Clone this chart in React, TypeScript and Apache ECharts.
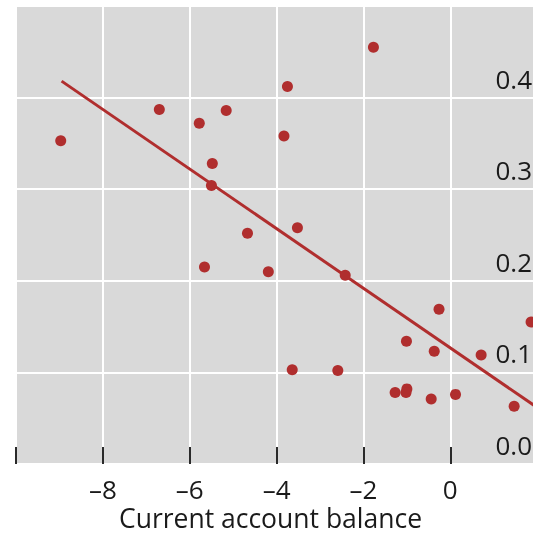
import React, { useEffect, useRef } from "react";
import * as echarts from "echarts";

// Scatter data (current account balance vs. value)
const pointX = [
  -8.97, -6.7, -5.78, -5.16, -5.48, -5.5, -4.67, -1.77, -3.75, -3.83, -3.52,
  -5.66, -4.19, -2.42, -0.26, 1.86, -1.01, -0.37, 0.71, -3.64, -2.59, -1.27,
  -1.0, -1.02, -0.44, 0.12, 1.47,
];
const pointY = [
  0.353, 0.387, 0.372, 0.386, 0.328, 0.304, 0.252, 0.455, 0.412, 0.358, 0.258,
  0.215, 0.21, 0.206, 0.169, 0.155, 0.134, 0.123, 0.119, 0.103, 0.102, 0.078,
  0.082, 0.078, 0.071, 0.076, 0.063,
];
// Fitted line endpoints
const fitX = [-8.95, 1.95];
const fitY = [0.418, 0.0633];

const xTicks = [-8, -6, -4, -2, 0];
const yTicks = [0.0, 0.1, 0.2, 0.3, 0.4];
const xTitle = "Current account balance";

const RED = "#b02e2e";
const FONT = "Open Sans";

export default function App() {
  const ref = useRef<HTMLDivElement>(null);
  useEffect(() => {
    if (!ref.current) return;
    const chart = echarts.init(ref.current, undefined, { renderer: "svg" });
    chart.setOption({
      animation: false,
      grid: {
        left: 16,
        right: -2,
        top: 6,
        bottom: 70,
        show: true,
        backgroundColor: "#d9d9d9",
        borderWidth: 0,
        containLabel: false,
        outerBoundsMode: "none",
      },
      xAxis: {
        type: "value",
        min: -10,
        max: 1.95,
        interval: 2,
        axisLine: { show: false },
        axisTick: {
          show: true,
          inside: true,
          length: 17,
          lineStyle: { color: "#2a2a2a", width: 2 },
        },
        splitLine: { show: true, lineStyle: { color: "#ffffff", width: 2 } },
        axisLabel: {
          margin: 14,
          fontSize: 26,
          lineHeight: 22,
          fontFamily: FONT,
          color: "#1a1a1a",
          formatter: (v: number) => {
            const hit = xTicks.find((t) => Math.abs(t - v) < 1e-6);
            if (hit === undefined) return "";
            return hit < 0 ? "\u2013" + Math.abs(hit) : String(hit);
          },
        },
      },
      yAxis: {
        type: "value",
        position: "right",
        min: 0,
        max: 0.5,
        interval: 0.1,
        axisLine: { show: false },
        axisTick: { show: false },
        splitLine: { show: true, lineStyle: { color: "#ffffff", width: 2 } },
        axisLabel: {
          inside: true,
          margin: 3,
          fontSize: 26,
          fontFamily: FONT,
          color: "#1a1a1a",
          verticalAlign: "bottom",
          lineHeight: 38,
          formatter: (v: number) => {
            const hit = yTicks.find((t) => Math.abs(t - v) < 1e-6);
            return hit === undefined ? "" : hit.toFixed(1);
          },
        },
      },
      series: [
        {
          type: "line",
          data: fitX.map((x, i) => [x, fitY[i]]),
          showSymbol: false,
          symbol: "none",
          lineStyle: { color: RED, width: 3 },
          z: 2,
        },
        {
          type: "scatter",
          data: pointX.map((x, i) => [x, pointY[i]]),
          symbolSize: 11,
          itemStyle: { color: RED, opacity: 1 },
          z: 3,
        },
      ],
      graphic: [
        {
          type: "text",
          x: 270.5,
          y: 518,
          style: {
            text: xTitle,
            fontSize: 26.5,
            lineHeight: 24,
            fontFamily: FONT,
            fill: "#1a1a1a",
            align: "center",
            verticalAlign: "middle",
            textAlign: "center",
            textVerticalAlign: "middle",
          },
        },
      ],
    });
    return () => chart.dispose();
  }, []);
  return (
    <div
      ref={ref}
      style={{ position: "fixed", left: 0, top: 0, width: 533, height: 534 }}
    />
  );
}
